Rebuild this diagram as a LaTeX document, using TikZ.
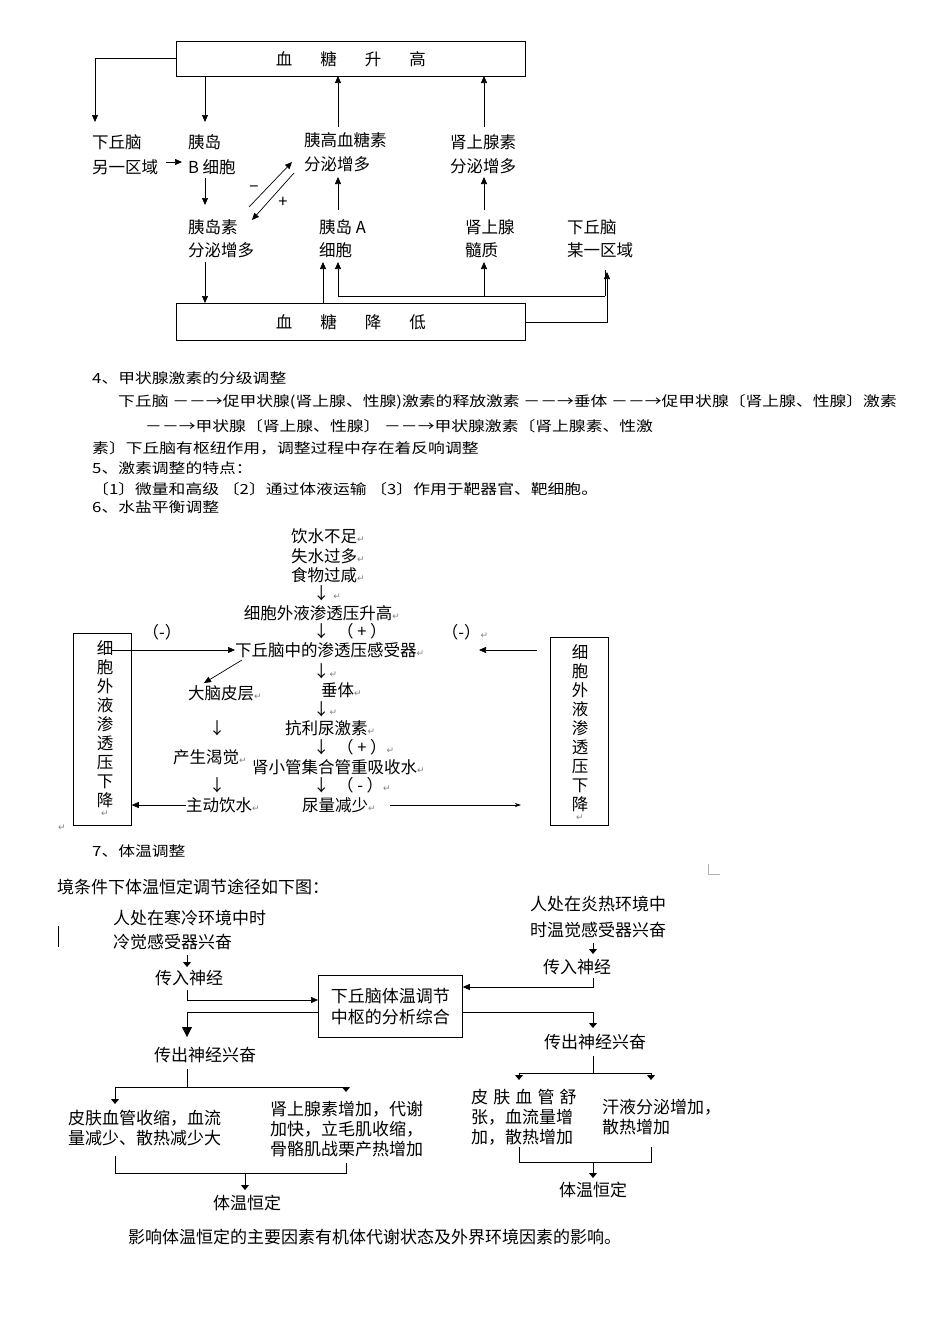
\documentclass[tikz,border=0pt]{standalone}
\usepackage{fontspec}
\setmainfont{Noto Sans CJK SC}
\newfontfamily\djv{DejaVu Sans}
\usetikzlibrary{arrows.meta}
\newcommand{\rt}{{\djv\textcolor{gray}{\fontsize{9}{9}\selectfont ↵}}}
\newcommand{\widetxt}[1]{\scalebox{1.2}[1]{#1}}
\begin{document}
\begin{tikzpicture}[x=1pt,y=-1pt,
  t/.style={inner sep=0pt,anchor=west},
  tc/.style={inner sep=0pt},
  f1/.style={font=\fontsize{16.5}{16.5}\selectfont},
  f2/.style={font=\fontsize{14}{14}\selectfont},
  f3/.style={font=\fontsize{16.5}{16.5}\selectfont},
  f4/.style={font=\fontsize{17}{17}\selectfont},
  ar/.style={-{Triangle[length=7pt,width=6pt]},line width=0.7pt},
  ln/.style={line width=0.7pt},
  mk/.style={-{Triangle[length=5pt,width=8pt]},line width=0.8pt},
  bx/.style={draw,line width=0.8pt}]
\useasboundingbox (0,0) rectangle (950,1344);
% ---------------- diagram 1
\node[bx,minimum width=349pt,minimum height=35pt,anchor=north west,f1,inner sep=0pt] (top) at (176,41) {血\hspace{1.7em}糖\hspace{1.7em}升\hspace{1.7em}高};
\node[bx,minimum width=349pt,minimum height=37pt,anchor=north west,f1,inner sep=0pt] (bot) at (176,303) {血\hspace{1.7em}糖\hspace{1.7em}降\hspace{1.7em}低};
\node[t,f1] (hq1) at (92,142) {下丘脑};
\node[t,f1] (hq2) at (92,167) {另一区域};
\node[t,f1] (yd1) at (188,142) {胰岛};
\node[t,f1] (yd2) at (188,167) {B 细胞};
\node[t,f1] (yds1) at (188,227) {胰岛素};
\node[t,f1] (yds2) at (188,250) {分泌增多};
\node[t,f1] (ygx1) at (304,140) {胰高血糖素};
\node[t,f1] (ygx2) at (304,164) {分泌增多};
\node[t,f1] (ya1) at (319,227) {胰岛 A};
\node[t,f1] (ya2) at (319,250) {细胞};
\node[t,f1] (sx1) at (450,142) {肾上腺素};
\node[t,f1] (sx2) at (450,166) {分泌增多};
\node[t,f1] (sz1) at (465,227) {肾上腺};
\node[t,f1] (sz2) at (465,250) {髓质};
\node[t,f1] (hm1) at (567,227) {下丘脑};
\node[t,f1] (hm2) at (567,250) {某一区域};
\node[tc,f1] (minus) at (254,189) {−};
\node[tc,f1] (plus) at (283,202) {+};
\draw[ar] (top.west |- 0,58) -- (95,58) -- (95,122);
\draw[ar] (205,76) -- (205,122);
\draw[ar] (166,162) -- (182,162);
\draw[ar] (205,178) -- (205,205);
\draw[ar] (205,262) -- (205,303);
\draw[ar] (249,207) -- (292,162);
\draw[ar] (294,173) -- (252,220);
\draw[ar] (338,127) -- (338,76);
\draw[ar] (484,127) -- (484,76);
\draw[ar] (338,210) -- (338,177);
\draw[ar] (484,210) -- (484,177);
\draw[ar] (323,303) -- (323,262);
\draw[ln] (605,296) -- (338,296);
\draw[ar] (338,296) -- (338,262);
\draw[ar] (484,296) -- (484,262);
\draw[ln] (605,270) -- (605,296);
\draw[ar] (bot.east |- 0,322) -- (607,322) -- (607,272);
% ---------------- text section
\node[t,f2] (s4) at (92,378) {\widetxt{4、甲状腺激素的分级调整}};
\node[t,f2] (l1) at (118,402) {\widetxt{下丘脑\ －－→促甲状腺(肾上腺、性腺)激素的释放激素\ －－→垂体\ －－→促甲状腺〔肾上腺、性腺〕激素}};
\node[t,f2] (l2) at (145,426) {\widetxt{－－→甲状腺〔肾上腺、性腺〕\ －－→甲状腺激素〔肾上腺素、性激}};
\node[t,f2] (l3) at (92,448) {\widetxt{素〕下丘脑有枢纽作用，调整过程中存在着反响调整}};
\node[t,f2] (s5) at (92,468) {\widetxt{5、激素调整的特点：}};
\node[t,f2] (l4) at (92,489) {\widetxt{〔1〕微量和高级\ 〔2〕通过体液运输\ 〔3〕作用于靶器官、靶细胞。}};
\node[t,f2] (s6) at (92,507) {\widetxt{6、水盐平衡调整}};
% ---------------- diagram water
\node[tc,f3] (w1) at (328,536) {饮水不足\rt};
\node[tc,f3] (w2) at (328,556) {失水过多\rt};
\node[tc,f3] (w3) at (328,575) {食物过咸\rt};
\node[t,f3] (d1) at (313,593) {↓\ \rt};
\node[tc,f3] (w4) at (322,613) {细胞外液渗透压升高\rt};
\node[t,f3] (d2) at (313,631) {↓\ \ （ + ）};
\node[t,f3] (w5) at (235,650) {下丘脑中的渗透压感受器\rt};
\node[t,f3] (d3) at (313,671) {↓\rt};
\node[t,f3] (w6) at (321,690) {垂体\rt};
\node[t,f3] (d4) at (313,709) {↓\rt};
\node[t,f3] (w7) at (285,728) {抗利尿激素\rt};
\node[t,f3] (d5) at (313,747) {↓\ \ （ + ）\rt};
\node[t,f3] (w8) at (252,767) {肾小管集合管重吸收水\rt};
\node[t,f3] (d6) at (313,785) {↓\ \ （ - ）\rt};
\node[t,f3] (w9) at (302,805) {尿量减少\rt};
\node[t,f3] (c1) at (188,693) {大脑皮层\rt};
\node[tc,f3] (d7) at (217,728) {↓};
\node[t,f3] (c2) at (173,757) {产生渴觉\rt};
\node[tc,f3] (d8) at (217,785) {↓};
\node[t,f3] (c3) at (186,805) {主动饮水\rt};
\node[bx,anchor=north west,minimum width=58pt,minimum height=192pt] (lb) at (73,633) {};
\node[bx,anchor=north west,minimum width=58pt,minimum height=188pt] (rb) at (550,637) {};
\node[tc,f3,align=center,anchor=north] (lbt) at (105,640) {细\\[2.5pt]胞\\[2.5pt]外\\[2.5pt]液\\[2.5pt]渗\\[2.5pt]透\\[2.5pt]压\\[2.5pt]下\\[2.5pt]降\\[-6pt]\rt};
\node[tc,f3,align=center,anchor=north] (rbt) at (580,644) {细\\[2.5pt]胞\\[2.5pt]外\\[2.5pt]液\\[2.5pt]渗\\[2.5pt]透\\[2.5pt]压\\[2.5pt]下\\[2.5pt]降\\[-6pt]\rt};
\node[tc,f3] (m1) at (162,632) {（-）};
\node[tc,f3] (m2) at (465,632) {（-）\rt};
\draw[ar] (112,650) -- (w5.west);
\draw[ar] (537,650) -- (479,650);
\draw[ar] (242,660) -- (204,683);
\draw[ar] (c3.west) -- (lb.east |- c3.west);
\draw[-{Stealth[length=6pt,width=4pt]},line width=0.7pt] (390,805) -- (521,805);
\node[tc] (rt0) at (62,828) {\rt};
\node[t,f2] (s7) at (92,851) {\widetxt{7、体温调整}};
\draw[gray!60,line width=0.5pt] (708,864) -- (708,874) -- (720,874);
% ---------------- diagram temperature
\node[t,f4] (h0) at (57,887) {境条件下体温恒定调节途径如下图：};
\draw[line width=1pt] (58,926) -- (58,947);
\node[t,f4] (c1a) at (113,918) {人处在寒冷环境中时};
\node[t,f4] (c1b) at (113,942) {冷觉感受器兴奋};
\node[tc,f4] (c2a) at (189,978) {传入神经};
\node[t,f4] (r1a) at (530,904) {人处在炎热环境中};
\node[t,f4] (r1b) at (530,930) {时温觉感受器兴奋};
\node[tc,f4] (r2a) at (577,967) {传入神经};
\node[bx,anchor=north west,minimum width=144pt,minimum height=62pt,f4,align=left,inner sep=0pt] (cen) at (318,975) {下丘脑体温调节\\[4pt]中枢的分析综合};
\node[tc,f4] (lo) at (205,1055) {传出神经兴奋};
\node[tc,f4] (ro) at (595,1042) {传出神经兴奋};
\node[t,f4,align=left] (la) at (68,1128) {皮肤血管收缩，血流\\[3pt]量减少、散热减少大};
\node[t,f4,align=left] (lb2) at (270,1129) {肾上腺素增加，代谢\\[3pt]加快，立毛肌收缩，\\[3pt]骨骼肌战栗产热增加};
\node[t,f4,align=left] (ra) at (471,1117) {皮\hspace{0.3em}肤\hspace{0.3em}血\hspace{0.3em}管\hspace{0.3em}舒\\[3pt]张，血流量增\\[3pt]加，散热增加};
\node[t,f4,align=left] (rb2) at (602,1117) {汗液分泌增加，\\[3pt]散热增加};
\node[tc,f4] (lt) at (247,1203) {体温恒定};
\node[tc,f4] (rt) at (593,1190) {体温恒定};
\node[t,f4] (fin) at (128,1237) {影响体温恒定的主要因素有机体代谢状态及外界环境因素的影响。};
\draw[mk] (187,955) -- (187,967);
\draw[mk] (593,943) -- (593,954);
\draw[ar] (187,990) -- (187,1000) -- (cen.west |- 0,1000);
\draw[ar] (593,978) -- (593,987) -- (cen.east |- 0,987);
\draw[ln] (cen.west |- 0,1012) -- (187,1012);
\draw[-{Triangle[length=10pt,width=10pt]},line width=0.8pt] (187,1012) -- (187,1037);
\draw[ln] (cen.east |- 0,1012) -- (593,1012);
\draw[mk] (593,1012) -- (593,1028);
\draw[ln] (187,1069) -- (187,1087);
\draw[ln] (115,1087) -- (346,1087);
\draw[mk] (115,1087) -- (115,1104);
\draw[mk] (346,1087) -- (346,1092);
\draw[ln] (593,1056) -- (593,1073);
\draw[ln] (519,1073) -- (651,1073);
\draw[mk] (519,1073) -- (519,1080);
\draw[mk] (651,1073) -- (651,1080);
\draw[ln] (115,1156) -- (115,1173) -- (346,1173) -- (346,1163);
\draw[mk] (245,1173) -- (245,1190);
\draw[ln] (519,1147) -- (519,1162) -- (651,1162) -- (651,1147);
\draw[mk] (593,1162) -- (593,1178);
\end{tikzpicture}
\end{document}
